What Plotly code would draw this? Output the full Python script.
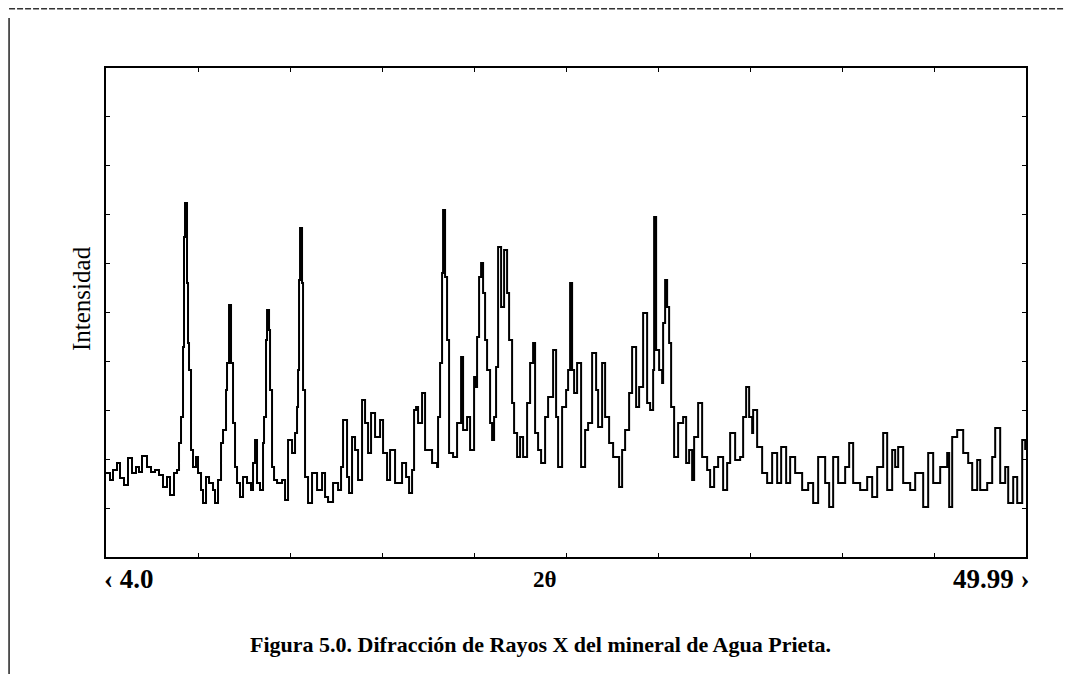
import plotly.graph_objects as go

# 2-theta (degrees)
two_theta = [4.0, 4.2, 4.35, 4.55, 4.7, 4.9, 5.1, 5.3, 5.5, 5.65, 5.8, 6.05, 6.25, 6.45, 6.65, 6.85, 7.05, 7.2, 7.4, 7.55,
             7.65, 7.75, 7.85, 7.9, 7.95, 8.05, 8.1, 8.15, 8.25, 8.35, 8.5, 8.6, 8.75, 8.85, 9.0, 9.15, 9.35, 9.45, 9.6, 9.75,
             9.85, 10.0, 10.05, 10.15, 10.25, 10.35, 10.45, 10.55, 10.7, 10.85, 11.05, 11.25, 11.35, 11.45, 11.55, 11.7, 11.85, 11.9, 12.0, 12.05,
             12.15, 12.2, 12.3, 12.4, 12.55, 12.8, 12.95, 13.1,
             13.3, 13.45, 13.55, 13.6, 13.65, 13.7, 13.8, 13.85, 13.95, 14.1, 14.3, 14.55, 14.8, 14.95, 15.1, 15.35, 15.6, 15.75, 15.85, 16.05,
             16.15, 16.3, 16.45, 16.6, 16.8, 16.95, 17.1, 17.25, 17.45, 17.7, 17.85, 18.05, 18.2, 18.45, 18.8, 19.0, 19.15, 19.3, 19.4, 19.5,
             19.6, 19.8, 19.95, 20.3, 20.55, 20.6, 20.7, 20.8, 20.85, 20.95, 21.05, 21.15, 21.35, 21.55, 21.75, 21.85, 22.05, 22.2, 22.4,
             22.45, 22.55, 22.65, 22.75, 22.85, 22.95, 23.05, 23.2, 23.3, 23.4, 23.5, 23.6, 23.75, 23.9, 24.05, 24.15, 24.3, 24.4, 24.55, 24.7,
             24.85, 25.05, 25.2, 25.35, 25.45, 25.6, 25.75, 25.95, 26.1, 26.35, 26.5, 26.6, 26.8, 27.0, 27.1, 27.2, 27.3, 27.4, 27.55, 27.75,
             27.95, 28.1, 28.3, 28.5, 28.6, 28.8, 28.95, 29.15, 29.35, 29.65, 29.8, 29.95, 30.15, 30.3, 30.5, 30.65, 30.85, 31.05, 31.2, 31.35,
             31.4, 31.5, 31.65,
             31.8, 31.85, 31.95, 32.05, 32.15, 32.25, 32.4, 32.6, 32.85, 33.0, 33.15, 33.3, 33.4, 33.6, 33.8, 34.05, 34.2, 34.4, 34.6, 34.85,
             35.05, 35.2, 35.45, 35.7, 35.85, 36.0, 36.15, 36.3, 36.35, 36.55, 36.8, 37.05, 37.3, 37.55, 37.75, 38.0, 38.2, 38.45, 38.8, 39.1,
             39.35, 39.6, 39.95, 40.15, 40.35, 40.6,
             40.95, 41.15, 41.35, 41.7, 42.05, 42.3, 42.55, 42.85, 43.05, 43.3, 43.45, 43.6, 43.85, 44.2, 44.45, 44.85, 45.1, 45.35, 45.7, 46.05,
             46.15, 46.3, 46.55, 46.85, 47.1, 47.3, 47.55, 47.7, 48.05, 48.3, 48.45, 48.7, 48.95, 49.1, 49.35, 49.55, 49.8, 49.95]

# Intensity (arbitrary counts)
intensity = [84, 77, 87, 94, 79, 72, 99, 84, 90, 85, 101, 90, 85, 87, 82, 70, 80, 62, 84, 87,
             114, 140, 210, 320, 354, 274, 214, 187, 107, 90, 100, 84, 67, 54, 80, 74, 67, 54, 77, 114,
             127, 167, 194, 252, 194, 134, 90, 74, 60, 80, 74, 67, 94, 117, 74, 67, 114, 140, 217, 247,
             227, 167, 90, 77, 74, 77, 57, 117,
             104, 124, 150, 187, 277, 329, 274, 167, 80, 54, 84, 67, 84, 60, 55, 74, 67, 90, 137, 80,
             64, 120, 107, 77, 157, 134, 104, 144, 120, 137, 104, 77, 107, 74, 94, 80, 64, 87, 147, 150,
             134, 164, 107, 94, 90, 140, 194, 284, 347, 280, 217, 104, 100, 134, 200, 127, 140, 107, 180,
             170, 220, 280, 294, 264, 217, 187, 134, 117, 140, 190, 310, 250, 307, 264, 217, 154, 124, 100, 120,
             100, 154, 194, 214, 124, 107, 94, 140, 160, 207, 140, 90, 150, 167, 187, 274, 187, 164, 194, 90,
             127, 134, 204, 167, 130, 194, 140, 114, 100, 70, 107, 127, 164, 210, 150, 170, 244, 154, 147, 187,
             340, 207, 187,
             174, 234, 277, 250, 214, 150, 100, 134, 140, 94, 107, 77, 120, 154, 100, 87, 70, 90, 100, 67,
             94, 124, 97, 100, 140, 170, 140, 124, 147, 110, 84, 74, 104, 74, 110, 74, 100, 84, 67, 74,
             54, 100, 74, 50, 100, 74,
             90, 114, 74, 67, 80, 60, 90, 124, 67, 107, 90, 110, 74, 67, 84, 50, 104, 74, 90, 104,
             50, 120, 127, 104, 94, 67, 97, 67, 74, 100, 129, 74, 90, 54, 80, 54, 117, 107]

x_range = [4.0, 49.99]
y_range = [0, 489]
x_ticks = [4.0 + 4.599 * k for k in range(1, 10)]
y_ticks = [48.9 * k for k in range(1, 10)]

FONT = "Liberation Serif"

# the page body adds an 8 px margin; the figure is sized to fill the rest of the window
W, H, OFF = 1064, 666, 8


def px(x):
    return (x - OFF) / W


def py(y):
    return 1 - (y - OFF) / H


fig = go.Figure()
fig.add_trace(go.Scatter(x=two_theta, y=intensity, mode="lines", line_shape="hv",
                         line=dict(color="black", width=2), showlegend=False, hoverinfo="skip"))

axis_common = dict(showgrid=False, zeroline=False, showline=True, linecolor="black", linewidth=1.5,
                   mirror="ticks", ticks="inside", ticklen=4, tickcolor="black", tickwidth=1,
                   showticklabels=False)

fig.update_layout(
    width=W, height=H,
    margin=dict(l=0, r=0, t=0, b=0),
    paper_bgcolor="white", plot_bgcolor="white",
    xaxis=dict(domain=[px(106), px(1026)], range=x_range, tickvals=x_ticks, **axis_common),
    yaxis=dict(domain=[py(557), py(68)], range=y_range, tickvals=y_ticks, **axis_common),
    font=dict(family=FONT, color="black"),
)

# x tick labels
fig.add_annotation(text="<b>‹ 4.0</b>", x=px(102), y=py(579), xref="paper", yref="paper",
                   xanchor="left", yanchor="middle", showarrow=False, font=dict(size=27, family=FONT))
fig.add_annotation(text="<b>2θ</b>", x=px(545), y=py(579), xref="paper", yref="paper",
                   xanchor="center", yanchor="middle", showarrow=False, font=dict(size=23, family=FONT))
fig.add_annotation(text="<b>49.99 ›</b>", x=px(1032), y=py(579), xref="paper", yref="paper",
                   xanchor="right", yanchor="middle", showarrow=False, font=dict(size=27, family=FONT))

# y axis title
fig.add_annotation(text="Intensidad", x=px(81), y=py(299), xref="paper", yref="paper",
                   textangle=-90, xanchor="center", yanchor="middle", showarrow=False,
                   font=dict(size=25, family=FONT))

# caption
fig.add_annotation(text="<b>Figura 5.0. Difracción de Rayos X del mineral de Agua Prieta.</b>",
                   x=px(540), y=py(644), xref="paper", yref="paper",
                   xanchor="center", yanchor="middle", showarrow=False, font=dict(size=22, family=FONT))

# page border lines (scan frame)
fig.add_shape(type="line", xref="paper", yref="paper", x0=0.001, x1=1, y0=0.999, y1=0.999,
              line=dict(color="#333333", width=1.5, dash="6px,2px"))
fig.add_shape(type="line", xref="paper", yref="paper", x0=0.001, x1=0.001, y0=0, y1=0.985,
              line=dict(color="#222222", width=1.5))

fig.write_html("out.html")
